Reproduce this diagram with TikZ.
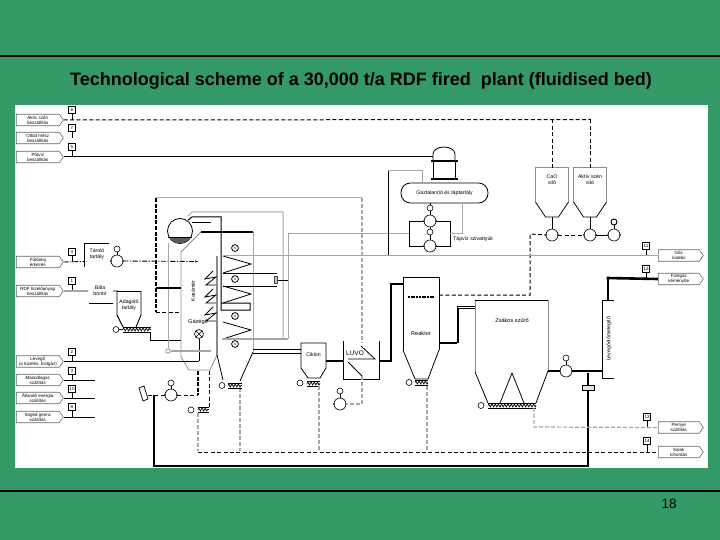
\documentclass[tikz,border=0pt]{standalone}
\usepackage{fontspec}
\setmainfont{Liberation Sans}
\usetikzlibrary{
  arrows.meta,
  shapes.geometric,
  shapes.symbols,
  decorations.pathmorphing,
  calc
}
\definecolor{slideGreen}{HTML}{339966}
\definecolor{pipeGray}{HTML}{A6A6A6}
\definecolor{wallGray}{HTML}{8C8C8C}
\tikzset{
  tiny/.style={font=\fontsize{5.2}{5.8}\selectfont, align=center, inner sep=0pt},
  tagbox/.style={
    signal, signal to=east, signal pointer angle=110, draw=black!60, fill=white, line width=.6pt,
    minimum width=47pt, minimum height=11.5pt, inner sep=0pt, anchor=west,
    font=\fontsize{4.5}{4.9}\selectfont, align=center
  },
  numbox/.style={draw, line width=.6pt, fill=white, minimum size=7pt, inner sep=0pt, font=\fontsize{4.5}{5}\selectfont},
  pump/.style={circle, draw, fill=white, line width=.6pt, minimum size=12pt, inner sep=0pt},
  motor/.style={circle, draw, fill=white, line width=.6pt, minimum size=6pt, inner sep=0pt, font=\fontsize{3}{3}\selectfont},
  fan/.style={pump, minimum size=9pt, path picture={
    \draw[line width=.5pt] (path picture bounding box.north west) -- (path picture bounding box.south east)
      (path picture bounding box.north east) -- (path picture bounding box.south west);}},
  wall/.style={draw=wallGray, line width=.8pt},
  vessel/.style={draw=black, line width=.8pt},
  pipe/.style={black, line width=1pt},
  fatpipe/.style={black, line width=2.6pt},
  graypipe/.style={pipeGray, line width=1pt},
  graythick/.style={pipeGray, line width=2pt},
  blackdash/.style={black, line width=1pt, dash pattern=on 4pt off 2.4pt},
  fatdash/.style={black, line width=1.8pt, dash pattern=on 4pt off 1.6pt},
  graydash/.style={pipeGray, line width=1.2pt, dash pattern=on 4pt off 2pt},
  dashdot/.style={black, line width=.9pt, dash pattern=on 5pt off 1.6pt on 1.2pt off 1.6pt},
  zigpipe/.style={black, line width=.8pt, line join=miter},
  screwbelt/.style={line width=.7pt, decorate, decoration={zigzag, segment length=3.2pt, amplitude=1.5pt}}
}
\begin{document}
\begin{tikzpicture}[x=1pt, y=-1pt]
  \useasboundingbox[fill=slideGreen] (0,0) rectangle (720,540);
  \fill[white] (15,105) rectangle (708,468);
  \draw[line width=2pt] (0,56) -- (720,56);
  \draw[line width=2pt] (0,491) -- (720,491);
  \node[font=\bfseries\fontsize{18}{20}\selectfont, inner sep=0pt] (title) at (361,81) {Technological scheme of a 30,000 t/a RDF fired\ \ plant (fluidised bed)};
  \node[font=\fontsize{13.5}{15}\selectfont, inner sep=0pt] (page) at (669,504) {18};

  % left side feeds
  \node[tagbox] (tAkt) at (16,120) {Aktív szén\\beszállítás};
  \node[tagbox] (tOlt) at (16,138) {Oltott mész\\beszállítás};
  \node[tagbox] (tPot) at (16,157) {Pótvíz\\beszállítás};
  \node[tagbox] (tOlaj) at (16,262) {Fűtőolaj\\érkezés};
  \node[tagbox] (tRdf) at (16,291) {RDF tüzelőanyag\\beszállítás};
  \node[tagbox] (tLev) at (16,361.5) {Levegő\\(a tüzelés, füstgáz)};
  \node[tagbox] (tMas) at (16,380) {Másodlagos\\szállítás};
  \node[tagbox] (tAll) at (16,398) {Állandó energia\\szállítás};
  \node[tagbox] (tSeg) at (16,417) {Segéd gerinc\\szállítás};
  % right side outputs
  \node[tagbox, minimum width=45pt] (tGoz) at (658,255.5) {Gőz\\kiadás};
  \node[tagbox, minimum width=45pt] (tFus) at (658,279) {Füstgáz\\kéménybe};
  \node[tagbox, minimum width=45pt] (tPer) at (658,427.5) {Pernye\\szállítás};
  \node[tagbox, minimum width=45pt] (tSal) at (658,452) {Salak\\kihordás};

  \foreach \n/\t/\x/\y/\g in {nAkt/6/72/110/tAkt, nOlt/7/72/128/tOlt, nPot/5/72/147/tPot, nOlaj/4/72/252/tOlaj, nRdf/1/72/281/tRdf,
    nLev/2/72/352/tLev, nMas/3/72/371/tMas, nAll/10/72/389/tAll, nSeg/8/72/407/tSeg,
    nGoz/11/646/246/tGoz, nFus/12/646/269/tFus, nPer/13/647/417/tPer, nSal/14/647/441/tSal}{
    \node[numbox] (\n) at (\x,\y) {\t};
    \draw[line width=.7pt] (\n) -- (\n |- \g);
  }
  \foreach \g/\xe in {tMas/95, tAll/95, tSeg/95}{\draw[pipe] (\g.east) -- (\xe,0 |- \g.east);}

  % pumps, fans
  \node[pump] (pOlaj) at (117,261) {};
  \node[motor] (mOlaj) at (117,249) {};
  \node[pump] (pAir) at (171,395) {};
  \node[motor] (mAir) at (171,383) {};
  \node[pump] (pLuvo) at (340,404) {};
  \node[motor] (mLuvo) at (340,391) {};
  \node[pump] (pFlue) at (566,371) {};
  \node[motor] (mFlue) at (566,358) {};
  \node[pump] (pTap1) at (430,221) {};
  \node[pump] (pTap2) at (430,246) {};
  \node[motor] (vTap1) at (430,208) {};
  \node[motor] (vTap2) at (430,232) {};
  \node[pump] (pCa) at (552,235) {};
  \node[pump] (pAkt) at (590,235) {};
  \node[pump] (pBlow) at (614,235) {};
  \node[motor, line width=.9pt] (mBlow) at (614,222) {};
  \node[fan] (burner) at (199,334) {};
  \foreach \n in {pOlaj,pAir,pLuvo,pFlue,pTap1,pTap2,pCa,pAkt,pBlow}{
    \fill[black!70] ($(\n.west)+(-1,-1.2)$) rectangle ($(\n.west)+(1,1.2)$);
    \fill[black!70] ($(\n.east)+(-1,-1.2)$) rectangle ($(\n.east)+(1,1.2)$);
  }
  \foreach \m/\p in {mAir/pAir, mLuvo/pLuvo, mFlue/pFlue, mOlaj/pOlaj}{\draw[line width=.6pt] (\m) -- (\p);}
  \foreach \a/\b in {vTap1/pTap1, vTap2/pTap2, pTap1/vTap2, mBlow/pBlow}{\draw[line width=.6pt] (\a) -- (\b);}

  % degasser, feed water pumps
  \draw[vessel] (433,161) -- (433,154) arc[start angle=180, end angle=360, x radius=11, y radius=7] -- (455,161);
  \draw[vessel] (433,161) -- (433,179) (455,161) -- (455,179);
  \draw[line width=2pt] (431,161) -- (458,161) (431,179) -- (458,179);
  \node[draw, fill=white, line width=.8pt, rounded corners=9.5pt, minimum width=87pt, minimum height=20pt, tiny] (degas) at (444.5,193) {Gáztalanító és táptartály};
  \draw[vessel] (vTap1) -- (degas.south -| vTap1);
  \draw[line width=.8pt] (pTap1.west) -- (409,221) -- (409,246) -- (pTap2.west);
  \draw[line width=.8pt] (pTap1.east) -- (450,221) -- (450,246) -- (pTap2.east);
  \node[tiny, anchor=west] (lTap) at (453,239) {Tápvíz szivattyúk};
  \draw[graypipe] (450,233) -- (462,233) -- (462,203);
  \draw[graypipe] (288,233) -- (409,233);
  \draw[pipe] (388,255) -- (388,171);
  \draw[graypipe] (388,171) -- (422,171) -- (422,183);
  \draw[pipe] (tPot.east) -- (433,157);

  % silos
  \foreach \n/\x/\t in {sCa/552/CaO\\siló, sAkt/590/Aktív szén\\siló}{
    \draw[wall, line width=1pt] (\x-16.5,202) -- (\x-16.5,168) -- (\x+16.5,168) -- (\x+16.5,202);
    \draw[vessel] (\x-16.5,202) -- (\x-6.5,217) -- (\x+6.5,217) -- (\x+16.5,202);
    \node[tiny] (\n) at (\x,180) {\t};
    \draw[pipe] (\x,217) -- (\x,229);
    \draw[blackdash] (\x,119.5) -- (\x,168);
  }
  \draw[blackdash] (tAkt.east) -- (590,119.5);
  \draw[blackdash] (pCa.east) -- (pAkt.west);
  \draw[pipe] (pAkt.east) -- (pBlow.west);
  \draw[blackdash] (439,295) -- (530,295) -- (530,234) -- (pCa.west);

  % oil and RDF feed
  \draw[dashdot] (tOlaj.east) -- (84,261.5);
  \draw[pipe] (84,267) -- (84,243) -- (109,243);
  \node[tiny] (lTar) at (97,254) {Tároló\\tartály};
  \draw[dashdot, -{Stealth[length=3pt]}] (pOlaj.east) -- (198,261.5);
  \draw[pipeGray, line width=2.6pt] (tRdf.east) -- (88,291);
  \node[tiny] (lBala) at (100,291) {Bála\\bontó};
  \draw[pipe] (89,303) -- (113,303);
  \draw[pipeGray, line width=2pt] (113,291) -- (118,291);
  \draw[vessel, line width=.9pt] (117,291) -- (141,291);
  \draw[vessel, line width=.9pt] (117,291) -- (117,315) -- (123,327) (141,291) -- (141,315) -- (136,327);
  \node[tiny] (lAdag) at (129,305) {Adagoló\\tartály};
  \node[motor] (mScrewA) at (116,329.5) {};
  \draw[line width=.9pt] (mScrewA) -- (123,329.5);
  \draw[pipe] (150,332) -- (150,340) -- (181,340);

  % boiler
  \draw[wall] (201,232) -- (181,252) -- (181,357) -- (189,370) -- (210,370) -- (217,355);
  \draw[pipeGray, line width=1pt] (253,232) -- (253,352);
  \draw[black, line width=1.3pt] (201,232) -- (253,232);
  \draw[wallGray, line width=2pt] (217,256) -- (217,355);
  \draw[vessel] (217,355) -- (223,380) (240,381) -- (253,352);
  \draw[line width=.8pt] (180,231) circle[radius=12.5];
  \draw[line width=.8pt] (168,237) -- (192,237);
  \fill[black!65] (170,238) -- (190,238) -- (184,243) -- (176,243) -- cycle;
  \node[tiny, rotate=90] (lTuz) at (193,291) {Kazántér};
  \node[tiny, font=\fontsize{5.6}{6}\selectfont] (lBurn) at (198,322) {Gázégő};
  \draw[pipe] (burner) -- (199,361);
  \draw[pipe] (tLev.east) -- (199,361.5);
  \foreach \y in {271,289,307}{
    \draw[zigpipe] (213,\y) -- (205,\y+8) -- (216,\y+6) -- (206,\y+14) -- (216,\y+14);
  }
  \foreach \y/\m in {256/263, 286/295, 322/330}{
    \draw[zigpipe] (223,\y) -- (251,\y+8) -- (223,\y+17);
  }
  \foreach \n/\y in {xA/248,xB/279,xC/316,xD/344}{
    \node[motor, line width=.8pt, font=\fontsize{4}{4}\selectfont] (\n) at (235,\y) {$\times$};
  }
  \draw[graypipe] (188,216) -- (192,212) -- (283,212) -- (283,339);
  \draw[pipe] (188,220) -- (192,217) -- (221,217) -- (221,310) -- (250,310) -- (250,303) -- (221,303);
  \draw[pipe] (192,223) -- (211,223);
  \draw[graypipe] (223,255) -- (362,255);
  \draw[graypipe] (362,255.5) -- (tGoz.west);
  \draw[pipe, line width=.7pt] (223,273) -- (277,273) (223,286) -- (277,286);
  \node[draw=black!70, fill=black!25, line width=.5pt, minimum width=3pt, minimum height=7pt, inner sep=0pt] (valve) at (276,280) {};
  \draw[pipe, line width=.7pt] (valve) -- (288,280);
  \draw[graythick] (222,339) -- (288,339);
  \draw[graypipe] (288,339) -- (288,233);
  \draw[graypipe] (168,243) -- (168,348);
  \node[circle, draw=black!60, fill=white, line width=.5pt, minimum size=4.5pt, inner sep=0pt] (oGas) at (168,351) {};
  \draw[graythick, line width=1.4pt] (oGas) -- (211,351);
  \draw[graypipe] (156,198) -- (362,198);
  \draw[graydash] (362,198) -- (362,343);
  \draw[fatdash] (156,198) -- (156,312);
  \draw[fatpipe, line width=1.8pt] (156,288) -- (181,288);
  \draw[blackdash] (156,312) -- (181,312);

  % air and ash under the boiler
  \draw[fatdash, line width=1.6pt] (198,371) -- (198,395);
  \draw[blackdash] (209,371) -- (209,407);
  \draw[blackdash] (pAir.east) -- (198,395);
  \draw[blackdash] (148,395) -- (pAir.west);
  \draw[line width=.7pt] (139,388) -- (144,386) -- (148,399) -- (143,401) -- cycle;
  \draw[fatpipe, line width=1.6pt] (154,395) -- (154,466) -- (588,466) -- (588,373);
  \node[draw, fill=black!10, line width=.5pt, minimum width=12pt, minimum height=5pt, inner sep=0pt] (cond) at (588,387.5) {};
  \draw[graydash] (198,413) -- (198,451);
  \draw[graydash] (240,388) -- (240,451);
  \draw[blackdash] (198,452) -- (tSal.west);

  % screw conveyors
  \foreach \n/\xa/\xb/\y/\xm in {scA/123/151/327/116, scB/198/209/407/191, scC/228/242/383/222, scD/307/320/381/300, scE/415/428/380/409, scF/488/536/403/481}{
    \draw[line width=.8pt] (\xa,\y) -- (\xb,\y);
    \draw[screwbelt] (\xa,\y+2.5) -- (\xb,\y+2.5);
    \draw[line width=.6pt] (\xa,\y+5) -- (\xb,\y+5);
  }
  \foreach \n/\x/\y in {oB/191/410, oC/222/385.5, oD/300/383, oE/409/382.5, oF/481/405.5}{
    \node[motor] (\n) at (\x,\y) {};
  }

  % cyclone, luvo
  \draw[pipe, line width=.8pt] (253,349.5) -- (301,349.5) (253,353) -- (301,353);
  \draw[vessel] (301,368) -- (301,343) -- (326,343) -- (326,368) -- (320,378) -- (308,378) -- cycle;
  \node[tiny] (lCik) at (313.5,355) {Ciklon};
  \draw[graydash] (319,386) -- (319,451);
  \draw[vessel] (343,341) -- (343,379) -- (379,379) -- (379,341);
  \node[tiny, font=\fontsize{6.5}{7}\selectfont] (lLuvo) at (355,353) {LUVO};
  \draw[zigpipe] (348,359) -- (375,359) -- (361,346);
  \draw[zigpipe] (348,362) -- (362,376);
  \draw[graydash] (362,376) -- (362,404) -- (pLuvo.east);
  \draw[fatpipe] (326,361) -- (343,361);
  \draw[fatpipe] (379,361) -- (391,361) -- (391,284) -- (403,284);

  % reactor
  \draw[vessel] (403,350) -- (403,277) -- (439,277) -- (439,350);
  \draw[vessel] (403,350) -- (415,379) -- (428,379) -- (439,350);
  \node[tiny, font=\fontsize{5.6}{6}\selectfont] (lReak) at (421,333) {Reaktor};
  \draw[line width=1.6pt, dash pattern=on 2pt off .7pt] (408,297) -- (435,297);
  \draw[graydash] (427,386) -- (427,451);
  \draw[fatpipe] (439,343) -- (457,343);
  \draw[pipe] (457,343) -- (457,306) -- (476,306) (458.5,343) -- (458.5,308) -- (476,308);

  % bag filter
  \draw[wall, line width=1pt] (475,372) -- (475,300);
  \draw[black, line width=1pt] (475,300) -- (548,300);
  \draw[wall, line width=1pt] (548,300) -- (548,371);
  \draw[vessel] (475,372) -- (488,403) (548,371) -- (536,403);
  \draw[vessel] (500,403) -- (512,373) -- (524,403);
  \node[tiny, font=\fontsize{5.6}{6}\selectfont] (lZsak) at (512,320) {Zsákos szűrő};
  \draw[graydash] (534,408) -- (534,427) -- (tPer.west);

  % flue gas, stack
  \draw[fatpipe] (548,371) -- (pFlue.west);
  \draw[fatpipe] (pFlue.east) -- (602,371);
  \draw[vessel] (614,300) -- (602,300) -- (602,378) -- (614,378);
  \node[tiny, rotate=90] (lStack) at (609,339) {Levegőelőmelegítő};
  \draw[fatpipe] (608,300) -- (608,278);
  \draw[fatpipe] (606.7,278) -- (tFus.west);
\end{tikzpicture}
\end{document}
